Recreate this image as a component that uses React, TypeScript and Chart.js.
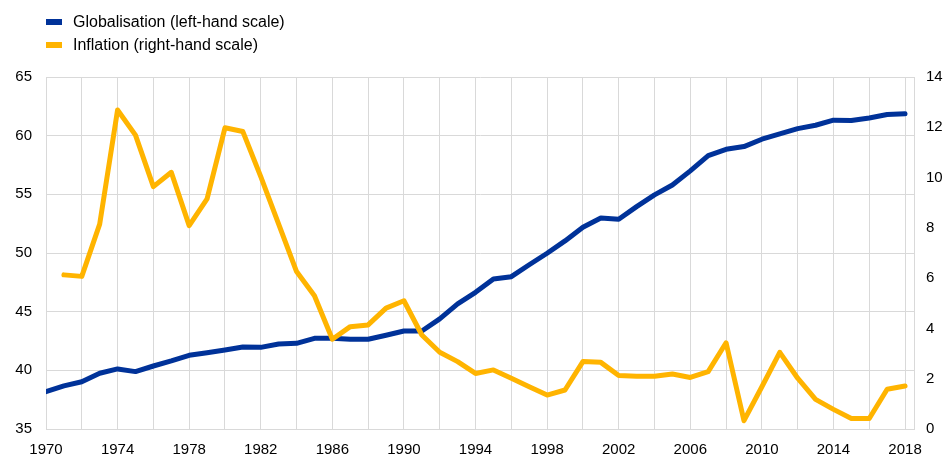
import React, { useEffect, useRef } from "react";
import { Chart, registerables } from "chart.js";

Chart.register(...registerables);

const years = [
  1970, 1971, 1972, 1973, 1974, 1975, 1976, 1977, 1978, 1979,
  1980, 1981, 1982, 1983, 1984, 1985, 1986, 1987, 1988, 1989,
  1990, 1991, 1992, 1993, 1994, 1995, 1996, 1997, 1998, 1999,
  2000, 2001, 2002, 2003, 2004, 2005, 2006, 2007, 2008, 2009,
  2010, 2011, 2012, 2013, 2014, 2015, 2016, 2017, 2018,
];

const globalisation = [
  38.18, 38.67, 39.03, 39.75, 40.12, 39.89, 40.37, 40.8, 41.28, 41.5,
  41.73, 41.99, 41.96, 42.25, 42.3, 42.73, 42.73, 42.65, 42.65, 42.99,
  43.35, 43.35, 44.38, 45.66, 46.65, 47.79, 47.98, 49.0, 49.98, 51.03,
  52.2, 52.99, 52.88, 53.95, 54.95, 55.8, 57.0, 58.3, 58.84, 59.07,
  59.7, 60.15, 60.6, 60.89, 61.32, 61.29, 61.51, 61.8, 61.86,
];

const inflation: (number | null)[] = [
  null, 6.13, 6.07, 8.15, 12.69, 11.69, 9.64, 10.21, 8.09, 9.15,
  11.98, 11.83, 10.04, 8.15, 6.26, 5.3, 3.57, 4.07, 4.14, 4.81,
  5.1, 3.74, 3.05, 2.68, 2.21, 2.35, 2.02, 1.68, 1.35, 1.55,
  2.68, 2.65, 2.13, 2.1, 2.1, 2.19, 2.05, 2.28, 3.43, 0.33,
  1.68, 3.05, 2.02, 1.18, 0.78, 0.42, 0.42, 1.58, 1.71,
];

const xGridYears = [
  1970, 1972, 1974, 1976, 1978, 1980, 1982, 1984, 1986, 1988, 1990, 1992,
  1994, 1996, 1998, 2000, 2002, 2004, 2006, 2008, 2010, 2012, 2014, 2016, 2018,
];
const xLabelYears = [
  1970, 1974, 1978, 1982, 1986, 1990, 1994, 1998, 2002, 2006, 2010, 2014, 2018,
];

const seriesLabels = ["Globalisation (left-hand scale)", "Inflation (right-hand scale)"];
const BLUE = "#003299";
const YELLOW = "#ffb400";
const GRID = "#d9d9d9";
const FONT = "'Liberation Sans', Arial, sans-serif";

export default function App() {
  const ref = useRef<HTMLCanvasElement | null>(null);

  useEffect(() => {
    document.body.style.margin = "0";
    if (!ref.current) return;
    const chart = new Chart(ref.current, {
      type: "line",
      data: {
        datasets: [
          {
            label: seriesLabels[1],
            data: years.map((y, i) => ({ x: y, y: inflation[i] })),
            borderColor: YELLOW,
            backgroundColor: YELLOW,
            borderWidth: 5,
            pointRadius: 0,
            tension: 0,
            spanGaps: false,
            yAxisID: "yR",
            borderJoinStyle: "round",
            borderCapStyle: "round",
            order: 0,
          },
          {
            label: seriesLabels[0],
            data: years.map((y, i) => ({ x: y, y: globalisation[i] })),
            borderColor: BLUE,
            backgroundColor: BLUE,
            borderWidth: 5,
            pointRadius: 0,
            tension: 0,
            yAxisID: "yL",
            borderJoinStyle: "round",
            borderCapStyle: "round",
            order: 1,
          },
        ],
      },
      options: {
        animation: false,
        responsive: false,
        devicePixelRatio: 1,
        layout: { padding: { top: 77, left: 0, right: 0, bottom: 0 } },
        plugins: { legend: { display: false }, tooltip: { enabled: false } },
        scales: {
          x: {
            type: "linear",
            min: 1970,
            max: 2018.5,
            afterBuildTicks: (scale: any) => {
              scale.ticks = xGridYears.map((v) => ({ value: v }));
            },
            afterFit: (scale: any) => {
              scale.height = 26;
            },
            grid: { color: GRID, lineWidth: 1, drawTicks: false },
            border: { color: GRID, width: 1 },
            ticks: {
              autoSkip: false,
              maxRotation: 0,
              padding: 12,
              color: "#000",
              font: { family: FONT, size: 15 },
              callback: (v: any) => (xLabelYears.includes(Number(v)) ? String(v) : ""),
            },
          },
          yL: {
            type: "linear",
            position: "left",
            min: 35,
            max: 65,
            afterFit: (scale: any) => {
              scale.width = 46;
            },
            grid: { color: GRID, lineWidth: 1, drawTicks: false },
            border: { color: GRID, width: 1 },
            ticks: {
              stepSize: 5,
              padding: 14,
              color: "#000",
              font: { family: FONT, size: 15 },
            },
          },
          yR: {
            type: "linear",
            position: "right",
            min: 0,
            max: 14,
            afterFit: (scale: any) => {
              scale.width = 31;
            },
            grid: { display: false, drawTicks: false },
            border: { color: GRID, width: 1 },
            ticks: {
              stepSize: 2,
              padding: 12,
              color: "#000",
              font: { family: FONT, size: 15 },
            },
          },
        },
      },
    } as any);
    return () => chart.destroy();
  }, []);

  const legendItem = (label: string, color: string, top: number) => (
    <div style={{ position: "absolute", left: 46, top, height: 18, display: "flex", alignItems: "center" }}>
      <div style={{ width: 16, height: 6, background: color }} />
      <span
        style={{
          marginLeft: 11,
          fontFamily: FONT,
          fontSize: 16,
          lineHeight: "18px",
          color: "#000",
          whiteSpace: "nowrap",
        }}
      >
        {label}
      </span>
    </div>
  );

  return (
    <div style={{ position: "absolute", left: 0, top: 0, width: 945, height: 455, background: "#fff" }}>
      <canvas ref={ref} width={945} height={455} style={{ position: "absolute", left: 0, top: 0 }} />
      {legendItem(seriesLabels[0], BLUE, 13)}
      {legendItem(seriesLabels[1], YELLOW, 36)}
    </div>
  );
}
